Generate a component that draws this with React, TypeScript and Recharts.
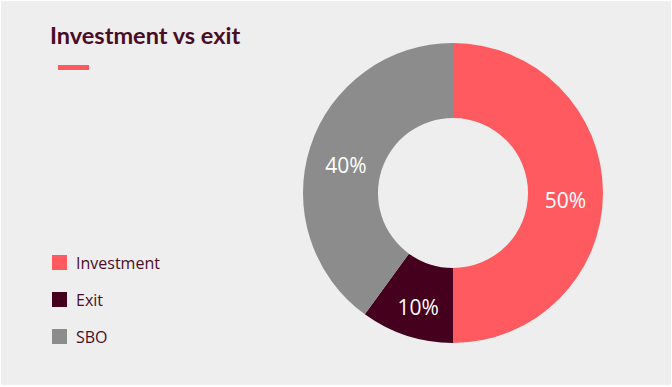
import React from "react";
import { PieChart, Pie, Cell } from "recharts";

const categories = ["Investment", "Exit", "SBO"];
const shares = [50, 10, 40];
const colors = ["#ff5a60", "#44001c", "#8c8c8c"];

const data = categories.map((name, i) => ({ name, value: shares[i] }));

const RAD = Math.PI / 180;
const FONT = "'Open Sans', 'Noto Sans', sans-serif";

function SliceLabel(props: any) {
  const { cx, cy, midAngle, innerRadius, outerRadius, value } = props;
  const r = (innerRadius + outerRadius) / 2;
  const x = cx + r * Math.cos(-midAngle * RAD);
  const y = cy + r * Math.sin(-midAngle * RAD);
  return (
    <text
      x={x}
      y={y + 7}
      fill="#ffffff"
      textAnchor="middle"
      dominantBaseline="central"
      fontSize={21}
      fontFamily={FONT}
    >
      {value}%
    </text>
  );
}

function LegendBox() {
  return (
    <div>
      {data.map((d, i) => (
        <div
          key={d.name}
          style={{ display: "flex", alignItems: "center", height: 37 }}
        >
          <span
            style={{
              display: "inline-block",
              width: 15,
              height: 15,
              background: colors[i],
              marginRight: 9,
            }}
          />
          <span style={{ fontSize: 16, color: "#4a0d25", fontFamily: FONT }}>
            {d.name}
          </span>
        </div>
      ))}
    </div>
  );
}

export default function App() {
  return (
    <div style={{ width: 672, height: 387, background: "#ffffff", position: "relative" }}>
      <style>{`body{margin:0}`}</style>
      <div
        style={{
          position: "absolute",
          left: 1,
          top: 1,
          width: 670,
          height: 384,
          background: "#eeeeee",
        }}
      />
      <div
        style={{
          position: "absolute",
          left: 50,
          top: 20,
          fontFamily: "Lato, 'Open Sans', sans-serif",
          fontWeight: 700,
          fontSize: 23.5,
          lineHeight: "30px",
          color: "#4a0d25",
        }}
      >
        Investment vs exit
      </div>
      <div
        style={{
          position: "absolute",
          left: 58,
          top: 65,
          width: 31,
          height: 5,
          background: "#ff5a60",
        }}
      />
      <div style={{ position: "absolute", left: 52, top: 244 }}>
        <LegendBox />
      </div>
      <div style={{ position: "absolute", left: 0, top: 0 }}>
        <PieChart width={672} height={387} margin={{ top: 0, right: 0, bottom: 0, left: 0 }}>
          <Pie
            data={data}
            dataKey="value"
            nameKey="name"
            cx={453}
            cy={193}
            innerRadius={75}
            outerRadius={150}
            startAngle={90}
            endAngle={-270}
            stroke="none"
            labelLine={false}
            label={SliceLabel}
            isAnimationActive={false}
          >
            {data.map((d, i) => (
              <Cell key={d.name} fill={colors[i]} />
            ))}
          </Pie>
        </PieChart>
      </div>
    </div>
  );
}
